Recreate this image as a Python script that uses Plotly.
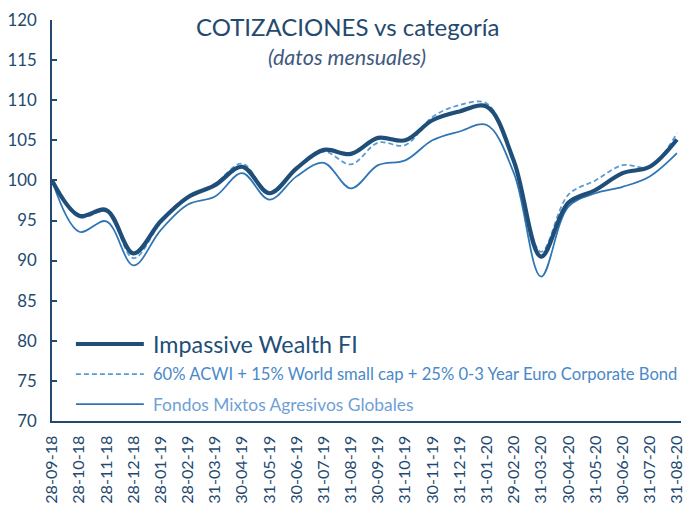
import plotly.graph_objects as go

fechas = ["28-09-18", "28-10-18", "28-11-18", "28-12-18", "28-01-19", "28-02-19",
          "31-03-19", "30-04-19", "31-05-19", "30-06-19", "31-07-19", "31-08-19",
          "30-09-19", "31-10-19", "30-11-19", "31-12-19", "31-01-20", "29-02-20",
          "31-03-20", "30-04-20", "31-05-20", "30-06-20", "31-07-20", "31-08-20"]

impassive = [100, 95.6, 96.3, 90.9, 94.9, 97.9, 99.4, 101.7, 98.4, 101.5, 103.8, 103.3,
             105.3, 105.0, 107.5, 108.6, 109.2, 102.4, 90.5, 97.2, 98.8, 100.9, 101.7, 105.1]
benchmark = [100, 95.4, 96.1, 90.3, 94.7, 97.9, 99.6, 102.1, 98.5, 101.4, 103.6, 102.0,
             104.7, 104.4, 107.9, 109.4, 109.6, 102.2, 91.1, 98.2, 100.0, 101.9, 101.7, 105.9]
fondos = [100, 93.6, 94.9, 89.4, 93.8, 97.0, 98.0, 100.9, 97.6, 100.5, 102.2, 99.0,
          101.9, 102.5, 105.0, 106.1, 106.9, 100.9, 88.0, 96.7, 98.4, 99.2, 100.5, 103.4]

names = ["Impassive Wealth FI",
         "60% ACWI + 15% World small cap + 25% 0-3 Year Euro Corporate Bond",
         "Fondos Mixtos Agresivos Globales"]

FONT = "Lato"
AX = "#24496F"

x_idx = list(range(len(fechas)))

fig = go.Figure()
fig.add_trace(go.Scatter(x=x_idx, y=fondos, mode="lines", name=names[2],
                         line=dict(color="#2E75B6", width=1.75, shape="spline", smoothing=1)))
fig.add_trace(go.Scatter(x=x_idx, y=benchmark, mode="lines", name=names[1],
                         line=dict(color="#5B9BD5", width=1.75, dash="5px,3px",
                                   shape="spline", smoothing=1)))
fig.add_trace(go.Scatter(x=x_idx, y=impassive, mode="lines", name=names[0],
                         line=dict(color="#1F4E79", width=4.2, shape="spline", smoothing=1)))

# legend drawn manually (long sample lines like the original)
leg_rows = [
    (names[0], 0.192, "#1F4E79", 4.2, "solid", 23.3, "#1F4E79"),
    (names[1], 0.117, "#5B9BD5", 1.75, "5px,3px", 16.6, "#4A89C8"),
    (names[2], 0.042, "#2E75B6", 1.75, "solid", 17.4, "#6F9FD6"),
]
shapes = []
annotations = []
for text, yy, lc, lw, dash, fs, tc in leg_rows:
    shapes.append(dict(type="line", xref="paper", yref="paper", x0=0.038, x1=0.146,
                       y0=yy, y1=yy, line=dict(color=lc, width=lw, dash=dash)))
    annotations.append(dict(text=text, xref="paper", yref="paper", x=0.158, y=yy,
                            xanchor="left", yanchor="middle", showarrow=False,
                            font=dict(family=FONT, size=fs, color=tc)))

annotations.append(dict(text="COTIZACIONES vs categoría", xref="paper", yref="paper",
                        x=0.469, y=0.983, xanchor="center", yanchor="middle", showarrow=False,
                        font=dict(family=FONT, size=24, color="#24496F")))
annotations.append(dict(text="<i>(datos mensuales)</i>", xref="paper", yref="paper",
                        x=0.469, y=0.908, xanchor="center", yanchor="middle", showarrow=False,
                        font=dict(family=FONT, size=21.5, color="#3F5A7E")))

fig.update_layout(
    width=684, height=507,
    margin=dict(l=52, r=3, t=20, b=86, autoexpand=False),
    paper_bgcolor="white", plot_bgcolor="white",
    showlegend=False,
    shapes=shapes, annotations=annotations,
    font=dict(family=FONT, color=AX),
)
fig.update_xaxes(range=[0, 23.15], tickmode="array", tickvals=x_idx, ticktext=fechas,
                 tickangle=-90, showgrid=False, zeroline=False, showline=True,
                 linecolor=AX, linewidth=2, ticks="", ticklabelstandoff=6,
                 ticklabeloverflow="allow", automargin=False,
                 tickfont=dict(family=FONT, size=16.2, color=AX))
fig.update_yaxes(range=[70, 120], tickvals=list(range(70, 121, 5)), showgrid=False,
                 zeroline=False, showline=True, linecolor=AX, linewidth=2,
                 ticks="inside", ticklen=5, tickwidth=2, tickcolor=AX, ticklabelstandoff=10,
                 automargin=False,
                 tickfont=dict(family=FONT, size=16.8, color=AX))

fig.write_html("out.html")
